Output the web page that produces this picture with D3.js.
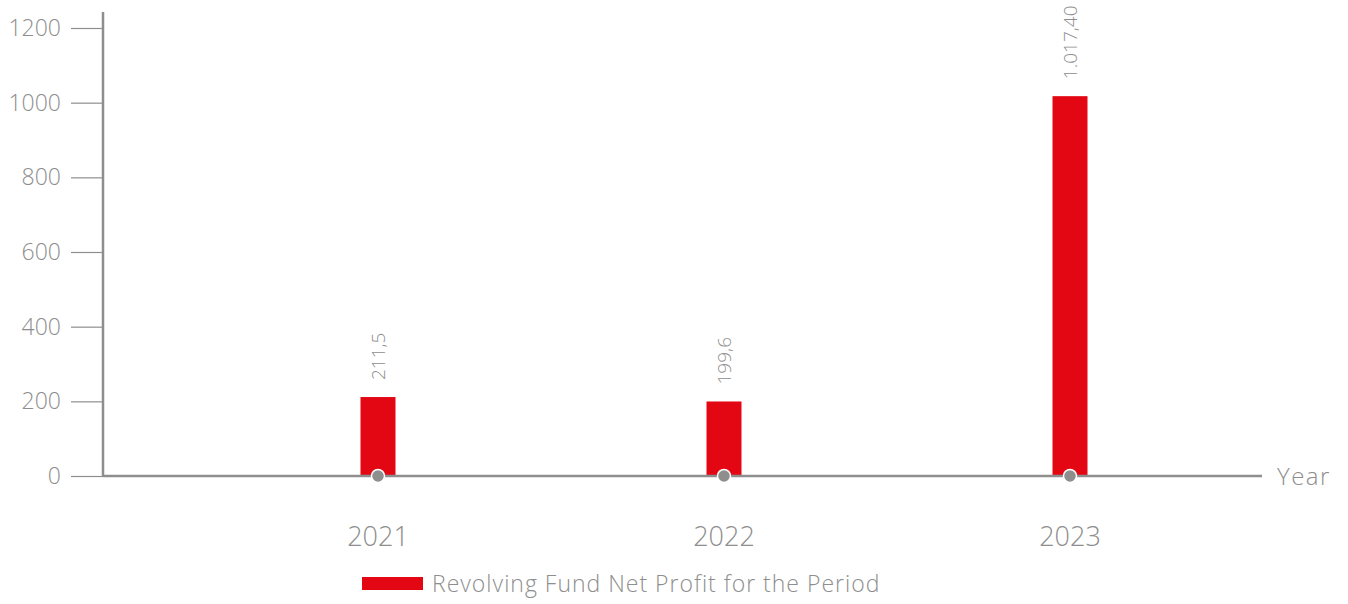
<!DOCTYPE html>
<html>
<head>
<meta charset="utf-8">
<script src="https://cdn.jsdelivr.net/npm/d3@7"></script>
<style>
  body { margin: 0; background: #fff; }
  svg text { font-family: "Open Sans", "DejaVu Sans", sans-serif; font-weight: 300; }
</style>
</head>
<body>
<svg id="chart" width="1348" height="604"></svg>
<script>
// chart data
const years = ["2021", "2022", "2023"];
const profit = [211.5, 199.6, 1017.4];
const profitLabels = ["211,5", "199,6", "1.017,40"];
const yTicks = [0, 200, 400, 600, 800, 1000, 1200];
const seriesName = "Revolving Fund Net Profit for the Period";

const svg = d3.select("#chart");
const grey = "#8e8e8e";
const red = "#e30613";

const originX = 103, originY = 476;

// scales
const x = d3.scaleBand().domain(years).range([205, 1243]);
const y = d3.scaleLinear().domain([0, 1200]).range([originY, 28]);

// y axis ticks + labels
const yAxis = d3.axisLeft(y).tickValues(yTicks).tickFormat(d3.format("d")).tickSize(32).tickPadding(10);
const yG = svg.append("g").attr("transform", `translate(${originX},0)`).call(yAxis);
yG.select(".domain").remove();
yG.selectAll("line").attr("stroke", grey).attr("stroke-width", 1.2);
yG.selectAll("text")
  .attr("fill", grey)
  .style("font-size", "23px")
  .style("font-family", "'Open Sans', 'DejaVu Sans', sans-serif")
  .style("font-weight", 300);

// bars
const barW = 35;
svg.selectAll(".bar")
  .data(years)
  .enter().append("rect")
  .attr("class", "bar")
  .attr("x", d => x(d) + x.bandwidth() / 2 - barW / 2)
  .attr("y", (d, i) => y(profit[i]))
  .attr("width", barW)
  .attr("height", (d, i) => y(0) - y(profit[i]))
  .attr("fill", red);

// value labels, rotated
svg.selectAll(".val")
  .data(years)
  .enter().append("text")
  .attr("class", "val")
  .attr("transform", (d, i) => `translate(${x(d) + x.bandwidth() / 2 + 7},${y(profit[i]) - 17}) rotate(-90)`)
  .attr("fill", grey)
  .style("font-size", "19px")
  .text((d, i) => profitLabels[i]);

// axis lines
svg.append("line")
  .attr("x1", originX).attr("x2", originX)
  .attr("y1", 12).attr("y2", originY + 1)
  .attr("stroke", grey).attr("stroke-width", 2.5);
svg.append("line")
  .attr("x1", originX).attr("x2", 1262)
  .attr("y1", originY).attr("y2", originY)
  .attr("stroke", grey).attr("stroke-width", 2.5);

svg.append("text")
  .attr("x", 1277).attr("y", originY + 9)
  .attr("fill", grey)
  .style("font-size", "24px")
  .style("letter-spacing", "1.5px")
  .text("Year");

// dots on the axis
svg.selectAll(".dot")
  .data(years)
  .enter().append("circle")
  .attr("class", "dot")
  .attr("cx", d => x(d) + x.bandwidth() / 2)
  .attr("cy", originY)
  .attr("r", 6.5)
  .attr("fill", grey)
  .attr("stroke", "#fff")
  .attr("stroke-width", 1.5);

// x labels
svg.selectAll(".xlab")
  .data(years)
  .enter().append("text")
  .attr("class", "xlab")
  .attr("x", d => x(d) + x.bandwidth() / 2)
  .attr("y", 546)
  .attr("text-anchor", "middle")
  .attr("fill", grey)
  .style("font-size", "27px")
  .text(d => d);

// legend
const legend = svg.append("g").attr("transform", "translate(362,577)");
legend.append("rect").attr("width", 61).attr("height", 13).attr("fill", red);
legend.append("text")
  .attr("x", 70).attr("y", 15)
  .attr("fill", grey)
  .style("font-size", "23px")
  .style("letter-spacing", "1px")
  .text(seriesName);
</script>
</body>
</html>
